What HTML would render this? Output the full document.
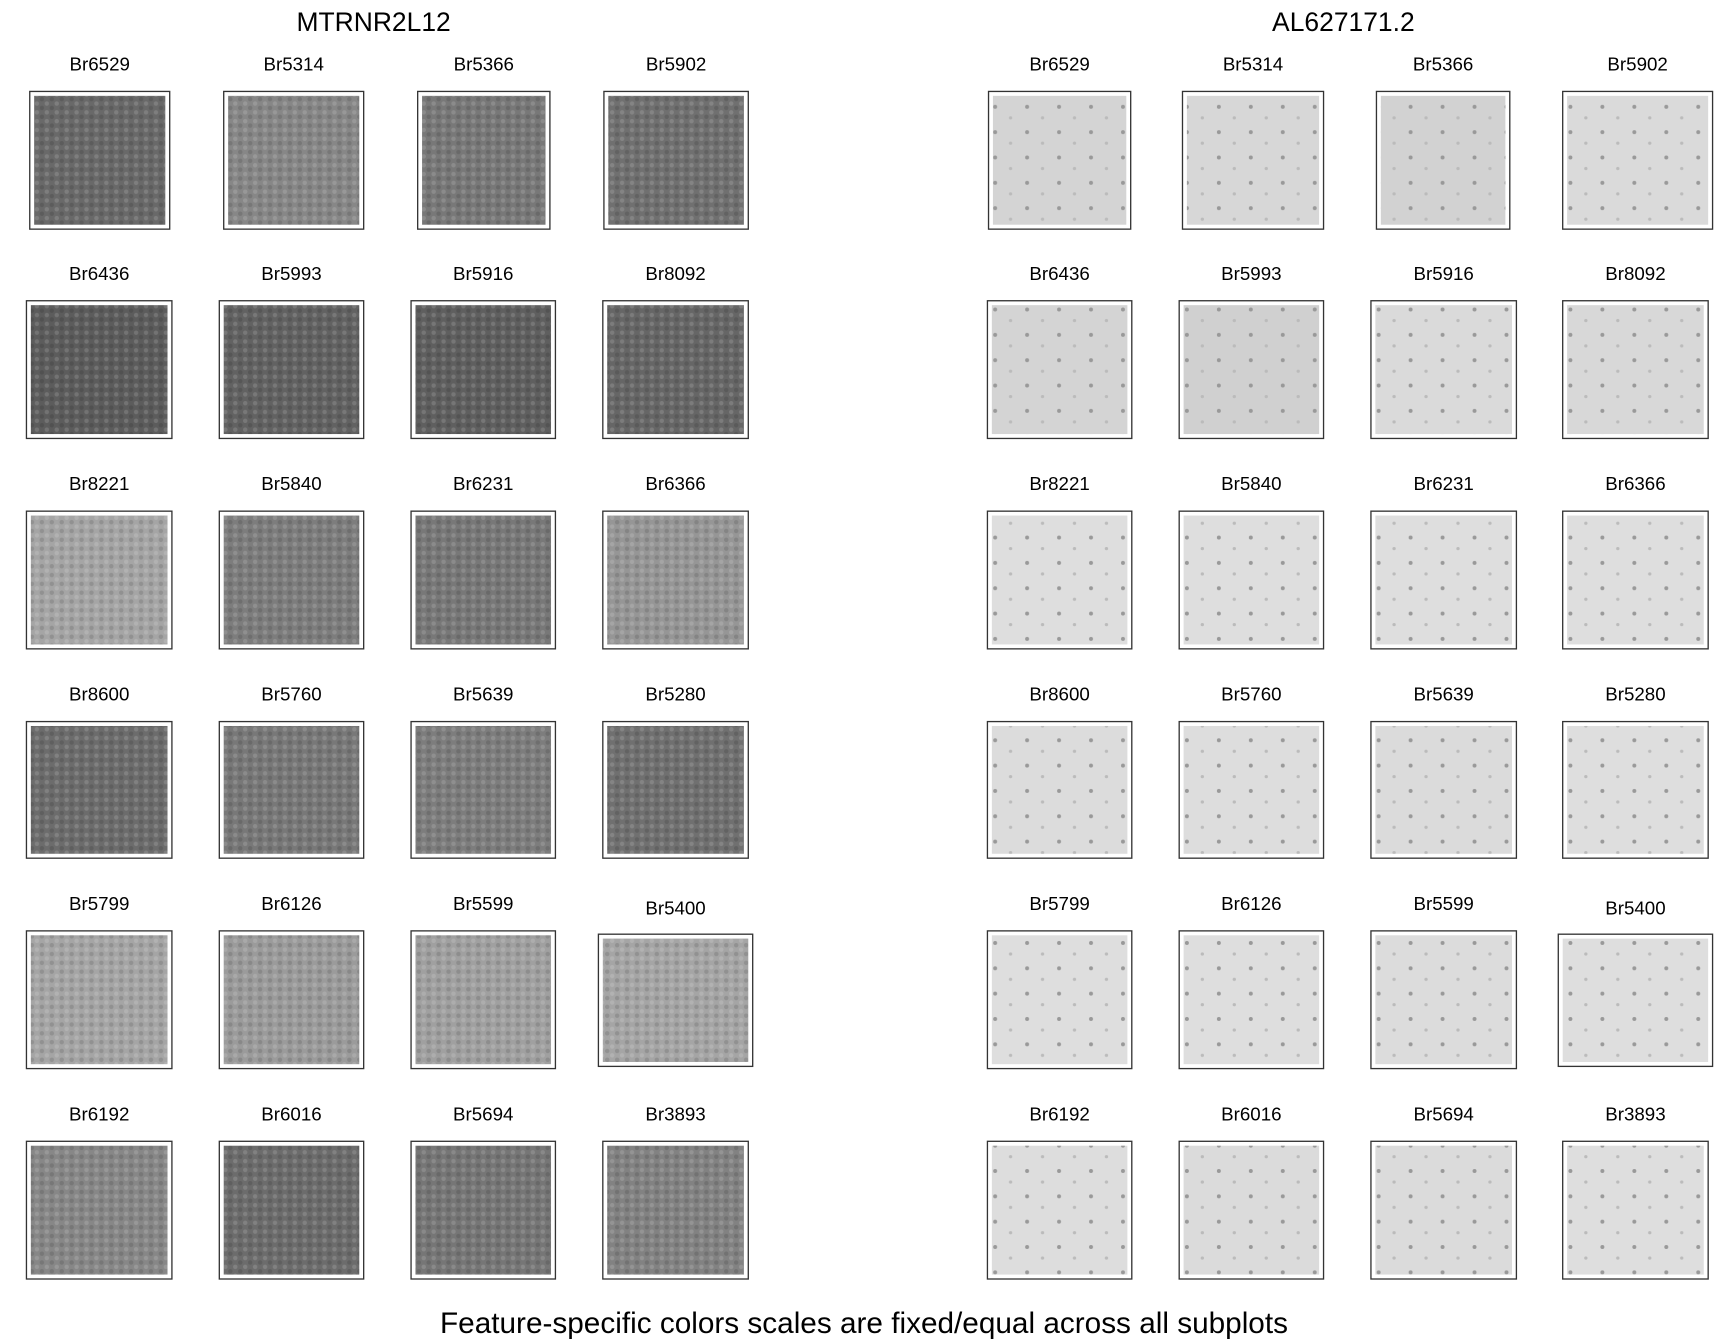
<!DOCTYPE html>
<html><head><meta charset="utf-8"><style>
html,body{margin:0;padding:0;background:#fff;}
svg{display:block;font-family:"Liberation Sans",Arial,sans-serif;}
</style></head><body>
<svg id="fig" width="1728" height="1344" viewBox="0 0 1568 1220" preserveAspectRatio="none" xmlns="http://www.w3.org/2000/svg">
<defs>
<pattern id="texL" width="9" height="8" patternUnits="userSpaceOnUse">
<circle cx="2" cy="2" r="2" fill="#000" opacity="0.12"/>
<circle cx="6.5" cy="6" r="2" fill="#fff" opacity="0.14"/>
</pattern>
<pattern id="texR" width="29" height="23" patternUnits="userSpaceOnUse">
<circle cx="4" cy="5" r="1.8" fill="#999"/>
<circle cx="18" cy="15" r="1.5" fill="#bbb"/>
</pattern>
</defs>
<text x="339" y="28" font-size="24" text-anchor="middle">MTRNR2L12</text>
<text x="1219" y="28" font-size="24" text-anchor="middle">AL627171.2</text>
<text x="784" y="1210" font-size="27" text-anchor="middle">Feature-specific colors scales are fixed/equal across all subplots</text>
<g id="panels"></g>
</svg>
<script>
const samples = [["Br6529","Br5314","Br5366","Br5902"],["Br6436","Br5993","Br5916","Br8092"],["Br8221","Br5840","Br6231","Br6366"],["Br8600","Br5760","Br5639","Br5280"],["Br5799","Br6126","Br5599","Br5400"],["Br6192","Br6016","Br5694","Br3893"]];
// mean gray level (0-255) of MTRNR2L12 expression per sample
const leftGray = [[105,135,120,112],[92,98,95,102],[165,125,120,150],[108,120,125,112],[165,155,160,165],[135,108,118,130]];
// mean gray level of AL627171.2 per sample
const rightGray = [[212,215,210,218],[212,208,218,216],[222,222,222,222],[220,221,219,222],[222,222,220,222],[221,219,219,222]];
const rowY = [[83,208],[273,398],[464,589],[655,779],[845,970],[1036,1161]];
const g = document.getElementById('panels');
const NS = 'http://www.w3.org/2000/svg';
function colsFor(side,r){
  if(side===0) return r===0?[[27,154],[203,330],[379,499],[548,679]]:[[24,156],[199,330],[373,504],[547,679]];
  return r===0?[[897,1026],[1073,1201],[1249,1370],[1418,1554]]:[[896,1027],[1070,1201],[1244,1376],[1418,1550]];
}
function mk(tag,attrs){const e=document.createElementNS(NS,tag);for(const k in attrs)e.setAttribute(k,attrs[k]);return e;}
for(let side=0;side<2;side++){
  const vals = side===0?leftGray:rightGray;
  for(let r=0;r<6;r++){
    const cols=colsFor(side,r);
    for(let c=0;c<4;c++){
      let [x0,x1]=cols[c]; let [y0,y1]=rowY[r];
      if(r===4&&c===3){x0=side?1414:543;x1=side?1554:683;y0=848;y1=968;}
      const cx=(x0+x1)/2;
      const t=mk('text',{x:cx,y:(r===4&&c===3)?y0-18:y0-19,'font-size':17,'text-anchor':'middle'});
      t.textContent=samples[r][c];
      
      
      g.appendChild(t);
      const v=vals[r][c];
      const fill=mk('rect',{x:x0+4,y:y0+4,width:x1-x0-8,height:y1-y0-8,fill:`rgb(${v},${v},${v})`});
      
      
      g.appendChild(fill);
      const tex=mk('rect',{x:x0+4,y:y0+4,width:x1-x0-8,height:y1-y0-8,fill:side?'url(#texR)':'url(#texL)'});
      
      
      g.appendChild(tex);
      const box=mk('rect',{x:x0,y:y0,width:x1-x0,height:y1-y0,fill:'none',stroke:'#333','stroke-width':1.2});
      
      
      g.appendChild(box);
    }
  }
}
</script>
</body></html>
